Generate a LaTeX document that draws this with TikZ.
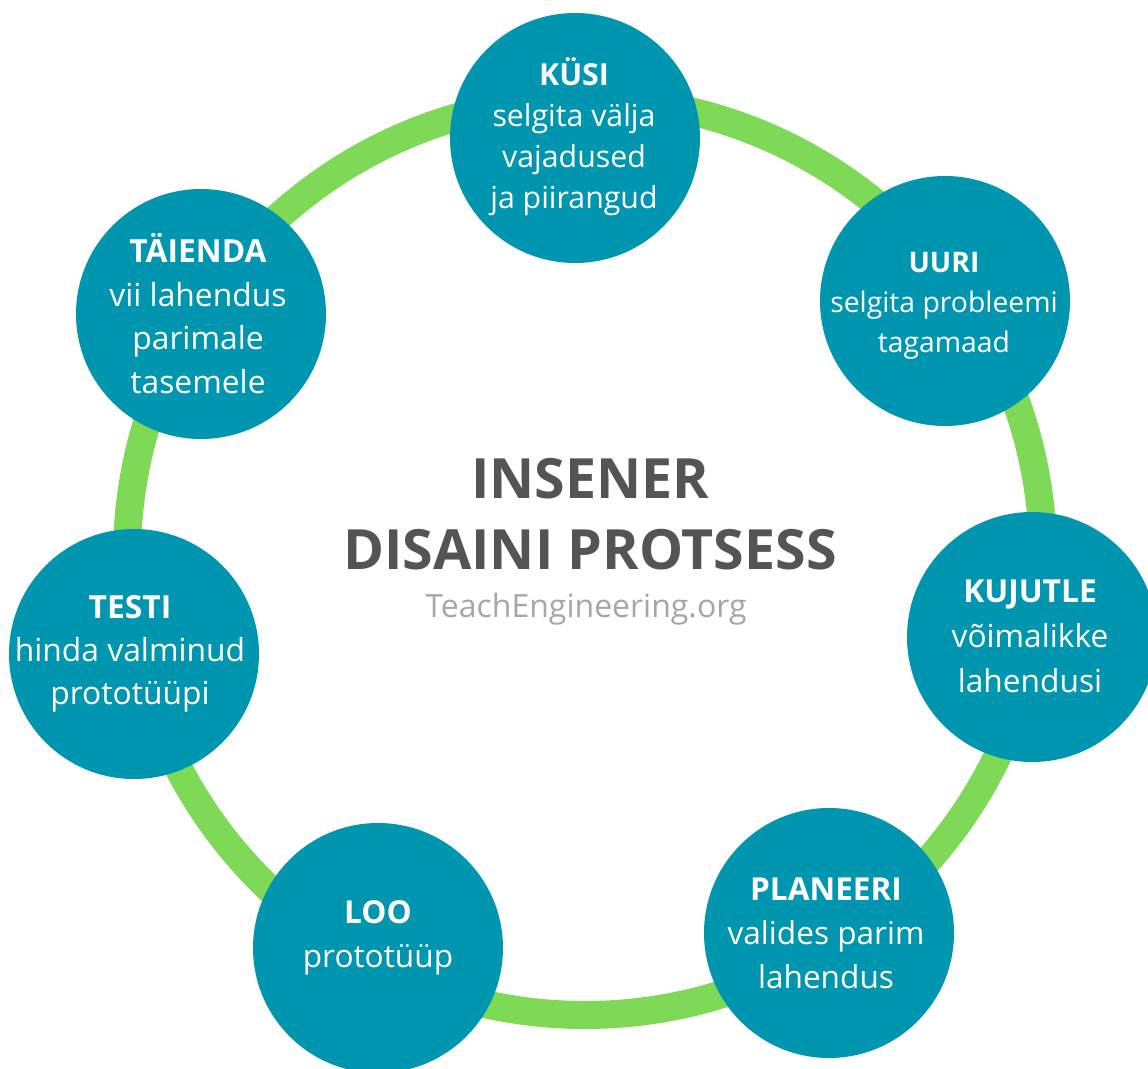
\documentclass[tikz,border=0pt]{standalone}
\usepackage{fontspec}
\setmainfont{Open Sans}
\definecolor{tealfill}{HTML}{0096B0}
\definecolor{ringgreen}{HTML}{7ED957}
\definecolor{titlegray}{HTML}{545454}
\definecolor{urlgray}{HTML}{A6A6A6}
\tikzset{
  ring/.style={draw=ringgreen, line width=28pt},
  stepcirc/.style={circle, fill=tealfill, minimum size=250pt, inner sep=0pt},
  lbl/.style 2 args={font={\fontsize{#1}{#2}\selectfont}, align=center, anchor=base, text=white, inner sep=0pt},
  titletext/.style={font={\fontsize{55.5}{71}\selectfont\bfseries}, align=center, anchor=base, text=titlegray, inner sep=0pt},
  urltext/.style={font={\fontsize{32}{36}\selectfont}, anchor=base, text=urlgray, inner sep=0pt}
}
\begin{document}
\begin{tikzpicture}[x=1pt,y=-1pt]
\useasboundingbox (0,0) rectangle (1148,1068);
\clip (0,0) rectangle (1148,1068);
\fill[white] (0,0) rectangle (1148,1068);
\coordinate (rc) at (585,557);
\draw[ring] (rc) circle[radius=458];
% step circles
\node[stepcirc] (kysi) at (575,138) {};
\node[stepcirc] (uuri) at (945,301) {};
\node[stepcirc] (kujutle) at (1032,637) {};
\node[stepcirc] (planeeri) at (829,933) {};
\node[stepcirc] (loo) at (378,948) {};
\node[stepcirc] (testi) at (134,654) {};
\node[stepcirc] (taienda) at (201,314) {};
% texts (anchor base = baseline of last line)
\node[lbl={30.3}{41}] (kysiT) at (574,208) {\textbf{KÜSI}\\selgita välja\\vajadused\\ja piirangud};
\node[lbl={28.3}{40}] (uuriT) at (944,352) {\textbf{UURI}\\selgita probleemi\\tagamaad};
\node[lbl={31.7}{45}] (kujutleT) at (1030,692) {\textbf{KUJUTLE}\\võimalikke\\lahendusi};
\node[lbl={31.6}{44}] (planeeriT) at (826,988) {\textbf{PLANEERI}\\valides parim\\lahendus};
\node[lbl={31.6}{44}] (looT) at (378,967) {\textbf{LOO}\\prototüüp};
\node[lbl={31.8}{43}] (testiT) at (130,704) {\textbf{TESTI}\\hinda valminud\\prototüüpi};
\node[lbl={31.8}{43.5}] (taiendaT) at (198,393) {\textbf{TÄIENDA}\\vii lahendus\\parimale\\tasemele};
% centre title
\node[titletext] (title) at (590,569) {INSENER\\DISAINI PROTSESS};
\node[urltext] (url) at (586,617) {TeachEngineering.org};
\end{tikzpicture}
\end{document}
